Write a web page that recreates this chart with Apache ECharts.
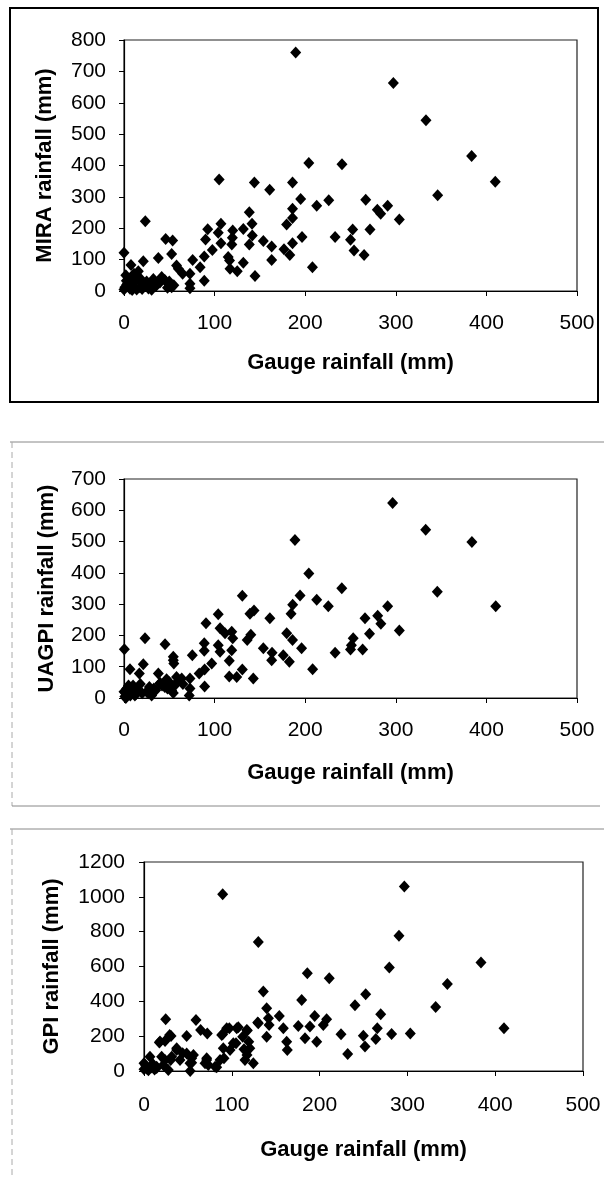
<!DOCTYPE html>
<html><head><meta charset="utf-8">
<script src="https://cdn.jsdelivr.net/npm/echarts/dist/echarts.min.js"></script>
<style>html,body{margin:0;padding:0;background:#fff}#c{width:604px;height:1177px}</style>
</head><body><div id="c"></div>
<script>
// ---- data (gauge rainfall x, satellite rainfall y), mm ----
const xTicks = [0, 100, 200, 300, 400, 500];
const xTitle = 'Gauge rainfall (mm)';
const yTitles = ['MIRA rainfall (mm)', 'UAGPI rainfall (mm)', 'GPI rainfall (mm)'];

const miraGauge = [0,1,2.6,6.6,7.7,10,15.8,17.6,21,21.3,23.5,28.7,30.5,32.4,37.9,39.7,41.6,46,49,52.6,52.6,53.7,58,60,64.7,72.8,72.8,72.8,75.8,84,88.6,88.6,90,92.4,97.5,104,105,107,107,115,116.5,117,119,119.6,120,125,131.7,131.7,138.3,138.3,141.3,141.6,143.9,144.6,153.8,160.8,163,163,176.6,179.5,183,186,186,186,186,189.5,195,196.5,204,208,212.7,226,233,240.6,250,252.4,253.9,265,266.8,271.5,279.6,283.3,291,297.3,303.9,333.3,346.2,383.7,409.8,3,5,8,12,14,18,25,27,35,45,48,0,2,11,4,9,20,30,38,50,55];
const mira      = [122,12,33,7,83,45,63,12,23,95,222,17,4,38,105,27,45,166,23,12,118,161,81,71,55,55,23,9,99,76,110,33,164,197,131,186,355,214,152,108,97,71,148,170,193,63,198,90,251,148,214,177,346,48,159,323,142,99,133,212,115,346,262,233,152,760,293,172,408,76,272,289,172,404,163,196,129,115,291,196,259,246,272,663,228,544,305,430,348,20,28,15,30,5,40,30,8,15,35,10,5,50,55,25,3,6,20,28,30,18];

const uagpiGauge = [0.4,1,2,3,4,6.6,8,10,12,15,16.9,18,21.3,23.2,25,28,30.5,33,37.9,39.7,42,45.3,48,52.6,54.4,54.4,54.4,55,58,63.7,72.8,72.8,72,75.4,83,88.6,88.6,89,89,90.5,96.8,104,104,106,106,111.5,116.2,116.2,118.9,118.9,120,124.4,130.6,130.6,136,139,140,142.7,143.5,153.8,161,163.4,163,175.8,179.6,182.5,184.4,186,186.2,188.7,194.3,196,204,208.2,212.7,225.5,233,240.4,250,251,253,263.4,266,271,280,283.5,291,296.5,303.9,333,345.8,384,410.3,50,60,65,45,35,20,5,0,2,7,13,27,31,56,47,40];
const uagpi      = [156,5,15,30,10,92,20,40,8,25,78,45,108,191,20,35,8,30,78,46,40,172,30,24,16,121,132,110,67,62,62,30,8,137,78,175,151,91,37,239,110,268,169,223,148,207,119,69,212,153,191,67,327,91,185,269,202,62,280,159,255,145,121,137,207,116,269,185,298,505,328,159,398,92,314,293,145,351,155,169,191,155,255,205,263,237,293,623,216,538,340,499,293,50,55,45,35,25,15,40,20,0,8,12,15,25,40,60,48];

const gpiGauge = [0,0,2,3,5,6.8,8,10,12,14.4,14.4,17.5,18.2,20.1,22,23.9,24,24.7,27.7,29.2,30.4,30.8,31.5,37.2,37.2,41,44,48.6,48.6,52.4,52.6,54.3,54.3,56.3,59.2,64.5,69.5,71.4,71.4,72.1,73.2,81,82.8,86.6,88.5,89.6,89.6,90.3,91.1,94.2,97.2,98,101.7,104.8,105.6,107.4,112.4,113.9,115,117,117.3,117.7,119.3,120.5,124.5,129.5,130.2,130.2,135.9,139.7,139.7,141.7,142.5,154.1,158.7,162.5,163.2,175.7,179.6,183.4,186,189,194.4,196.7,204.2,208,211,224.4,232,240.3,249.8,251.7,252.5,264,265.7,269.6,279.4,282,290.4,296.5,303.3,332.2,345.5,383.8,410];
const gpi      = [44,10,30,15,5,82,20,40,8,25,17,163,169,82,34,63,172,297,6,207,63,201,82,121,130,63,102,201,101,44,0,73,48,92,293,236,44,63,73,216,34,25,21,63,207,1015,211,130,73,245,245,121,159,159,245,251,197,125,63,236,92,232,168,130,44,278,741,274,456,360,197,303,264,316,245,168,121,259,408,188,561,255,316,168,264,297,533,211,98,377,203,140,441,184,245,326,594,213,776,1059,216,368,500,623,245];

function pairs(xs, ys) { return xs.map((x, i) => [x, ys[i]]); }

const FONT = '"Liberation Sans", Arial, sans-serif';
const grids = [
  {left: 124, top: 40, width: 453, height: 251},
  {left: 124, top: 479, width: 453, height: 219},
  {left: 144, top: 862, width: 439, height: 209}
];
const yMax = [800, 700, 1200];
const yInt = [100, 100, 200];
const xLabelMargin = [22, 22, 24];
const yLabelMargin = [18, 18, 19];
const xNameGap = [61, 64, 68];
const yNameGap = [68, 66, 81];

const chart = echarts.init(document.getElementById('c'), null, {renderer: 'canvas'});
const axisLine = {show: true, lineStyle: {color: '#000', width: 1.2}};
const tick = {show: true, inside: false, length: 5, lineStyle: {color: '#000', width: 1}};
const labelStyle = {color: '#000', fontSize: 21, fontFamily: FONT, formatter: v => String(v)};
const nameStyle = {color: '#000', fontSize: 22, fontWeight: 'bold', fontFamily: FONT};

const option = {
  animation: false,
  backgroundColor: '#fff',
  grid: grids.map(g => Object.assign({show: true, borderColor: '#222', borderWidth: 1.2, backgroundColor: 'transparent'}, g)),
  xAxis: grids.map((g, i) => ({
    type: 'value', gridIndex: i, min: xTicks[0], max: xTicks[xTicks.length - 1], interval: 100,
    axisLine, axisTick: tick, splitLine: {show: false},
    axisLabel: Object.assign({margin: xLabelMargin[i]}, labelStyle),
    name: xTitle, nameLocation: 'middle', nameGap: xNameGap[i], nameTextStyle: nameStyle
  })),
  yAxis: grids.map((g, i) => ({
    type: 'value', gridIndex: i, min: 0, max: yMax[i], interval: yInt[i],
    axisLine, axisTick: tick, splitLine: {show: false},
    axisLabel: Object.assign({margin: yLabelMargin[i]}, labelStyle),
    name: yTitles[i], nameLocation: 'middle', nameGap: yNameGap[i], nameTextStyle: nameStyle
  })),
  series: [pairs(miraGauge, mira), pairs(uagpiGauge, uagpi), pairs(gpiGauge, gpi)].map((d, i) => ({
    type: 'scatter', xAxisIndex: i, yAxisIndex: i, data: d,
    symbol: 'diamond', symbolSize: [11, 12],
    itemStyle: {color: '#000', opacity: 1}
  })),
  graphic: [
    {type: 'rect', shape: {x: 10, y: 8, width: 588, height: 394}, style: {fill: 'none', stroke: '#000', lineWidth: 2}},
    {type: 'line', shape: {x1: 10, y1: 442, x2: 604, y2: 442}, style: {stroke: '#888', lineWidth: 1}},
    {type: 'line', shape: {x1: 12, y1: 442, x2: 12, y2: 806}, style: {stroke: '#aaa', lineWidth: 1, lineDash: [6, 4]}},
    {type: 'line', shape: {x1: 12, y1: 806, x2: 600, y2: 806}, style: {stroke: '#888', lineWidth: 1}},
    {type: 'line', shape: {x1: 10, y1: 829, x2: 604, y2: 829}, style: {stroke: '#888', lineWidth: 1}},
    {type: 'line', shape: {x1: 12, y1: 829, x2: 12, y2: 1177}, style: {stroke: '#aaa', lineWidth: 1, lineDash: [6, 4]}}
  ]
};
chart.setOption(option);
</script></body></html>
